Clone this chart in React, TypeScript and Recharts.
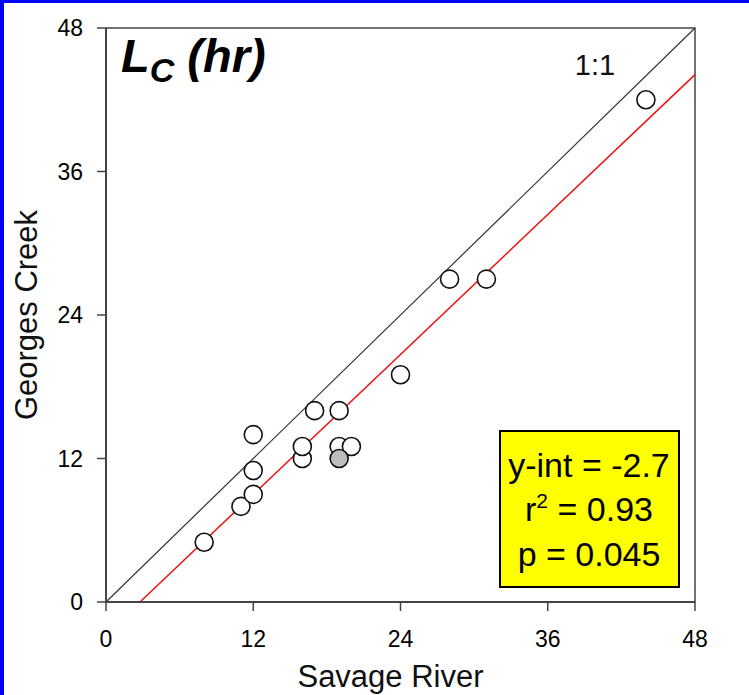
import React from "react";
import {
  ScatterChart,
  Scatter,
  XAxis,
  YAxis,
  ReferenceLine,
  ReferenceArea,
  Label,
  Customized,
} from "recharts";

const FONT = "'Liberation Sans', Arial, Helvetica, sans-serif";

// Savage River (x) vs Georges Creek (y), Lc in hours
const openX = [8, 11, 12, 12, 12, 16, 16, 17, 19, 19, 20, 24, 28, 31, 44];
const openY = [5, 8, 9, 11, 14, 12, 13, 16, 16, 13, 13, 19, 27, 27, 42];
const grayX = [19];
const grayY = [12];

const axisTicks = [0, 12, 24, 36, 48];

// regression fit
const fitIntercept = -2.7;
const fitSlope = 0.975;

const statLines = ["y-int = -2.7", "r2 = 0.93", "p = 0.045"];

const openPts = openX.map((x, i) => ({ x, y: openY[i] }));
const grayPts = grayX.map((x, i) => ({ x, y: grayY[i] }));

const fitSeg = [
  { x: -fitIntercept / fitSlope, y: 0 },
  { x: 48, y: fitIntercept + fitSlope * 48 },
];

const dot = (fill: string) => (p: any) =>
  <circle cx={p.cx} cy={p.cy} r={9} fill={fill} stroke="#111" strokeWidth={1.6} />;

function Annotations() {
  return (
    <g fontFamily={FONT}>
      <text x={121} y={72} fontSize={47} fontWeight="bold" fontStyle="italic" fill="#000">
        L
        <tspan fontSize={34} dy={10}>C</tspan>
        <tspan dy={-10}> (hr)</tspan>
      </text>
      <text x={595} y={75} fontSize={29} fill="#111" textAnchor="middle">1:1</text>
      <rect x={500} y={431} width={179} height={156} fill="#ffff00" stroke="#000" strokeWidth={2} />
      <text x={589} y={477} fontSize={34} textAnchor="middle" fill="#000">{statLines[0]}</text>
      <text x={589} y={521} fontSize={34} textAnchor="middle" fill="#000">
        r<tspan fontSize={21} dy={-13}>2</tspan>
        <tspan dy={13}>{statLines[1].slice(2)}</tspan>
      </text>
      <text x={589} y={566} fontSize={34} textAnchor="middle" fill="#000">{statLines[2]}</text>
    </g>
  );
}

export default function App() {
  return (
    <div style={{ position: "absolute", left: 0, top: 0, width: 749, height: 695, background: "#fff" }}>
      <ScatterChart width={749} height={695} margin={{ top: 28, right: 54, bottom: 0, left: 0 }}>
        <ReferenceArea x1={0} x2={48} y1={0} y2={48} fill="none" stroke="#444" strokeWidth={1.5} />
        <XAxis
          type="number"
          dataKey="x"
          domain={[0, 48]}
          ticks={axisTicks}
          height={93}
          tickSize={9}
          tickMargin={20}
          axisLine={{ stroke: "#444", strokeWidth: 2 }}
          tickLine={{ stroke: "#444", strokeWidth: 1.5 }}
          tick={{ fill: "#000", fontSize: 23, fontFamily: FONT }}
        >
          <Label
            value="Savage River"
            position="insideBottom"
            offset={8}
            dx={-10}
            style={{ fontSize: 31, fill: "#111", fontFamily: FONT }}
          />
        </XAxis>
        <YAxis
          type="number"
          dataKey="y"
          domain={[0, 48]}
          ticks={axisTicks}
          width={106}
          tickSize={9}
          tickMargin={14}
          axisLine={{ stroke: "#444", strokeWidth: 2 }}
          tickLine={{ stroke: "#444", strokeWidth: 1.5 }}
          tick={{ fill: "#000", fontSize: 23, fontFamily: FONT }}
        >
          <Label
            value="Georges Creek"
            angle={-90}
            position="insideLeft"
            offset={26}
            style={{ fontSize: 31, fill: "#111", fontFamily: FONT, textAnchor: "middle" }}
          />
        </YAxis>
        <ReferenceLine
          segment={[{ x: 0, y: 0 }, { x: 48, y: 48 }]}
          stroke="#333"
          strokeWidth={1.2}
          ifOverflow="visible"
        />
        <ReferenceLine segment={fitSeg} stroke="#ee1111" strokeWidth={1.5} ifOverflow="visible" />
        <Scatter data={openPts} shape={dot("#fff")} isAnimationActive={false} />
        <Scatter data={grayPts} shape={dot("#bdbdbd")} isAnimationActive={false} />
        <Customized component={Annotations} />
      </ScatterChart>
      <div style={{ position: "absolute", left: 0, top: 0, width: 749, height: 3, background: "#0000ff" }} />
      <div style={{ position: "absolute", left: 0, top: 0, width: 4, height: 695, background: "#0000ff" }} />
    </div>
  );
}
